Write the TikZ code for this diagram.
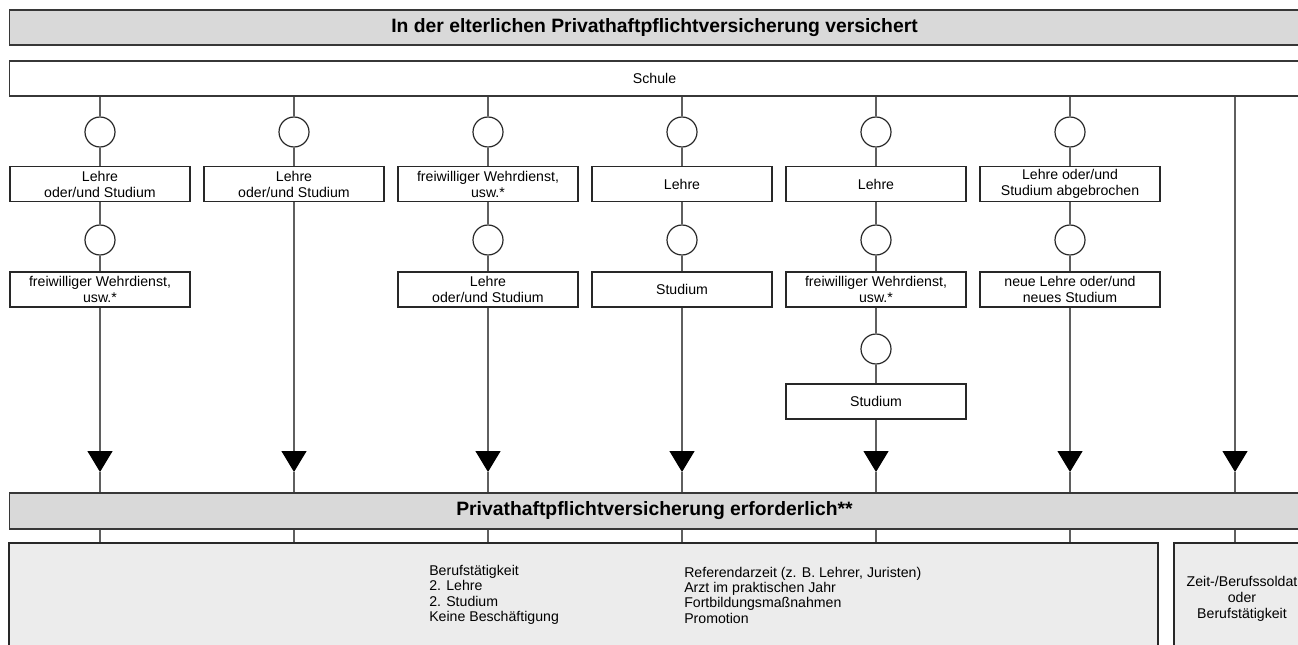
\documentclass[tikz,border=0pt]{standalone}
\usepackage{fontspec}
\setmainfont{Liberation Sans}
\usetikzlibrary{arrows.meta}

\tikzset{
  bar/.style={draw={rgb, 255:red, 55; green, 55; blue, 55 }, fill={rgb, 255:red, 217; green, 217; blue, 217 }, line width=1pt, minimum width=968pt, minimum height=26.25pt, inner sep=0pt, font=\bfseries\fontsize{14.5}{16}\selectfont},
  wide/.style={draw={rgb, 255:red, 55; green, 55; blue, 55 }, fill=white, line width=1pt, minimum width=968pt, minimum height=26.25pt, inner sep=0pt, font=\fontsize{10.6}{12}\selectfont},
  stepbox/.style={draw={rgb, 255:red, 40; green, 40; blue, 40 }, fill=white, line width=1pt, minimum width=135pt, minimum height=26.25pt, inner sep=0pt, align=center, font=\fontsize{10.6}{12}\selectfont},
  knot/.style={circle, draw={rgb, 255:red, 40; green, 40; blue, 40 }, fill=white, line width=0.9pt, minimum size=22.5pt, inner sep=0pt},
  rest/.style={draw={rgb, 255:red, 40; green, 40; blue, 40 }, fill={rgb, 255:red, 236; green, 236; blue, 236 }, line width=1pt, minimum height=84pt, inner sep=0pt, align=center, font=\fontsize{10.6}{12}\selectfont},
  liste/.style={anchor=west, inner sep=0pt, align=left, font=\fontsize{10.6}{11.5}\selectfont},
  conn/.style={draw={rgb, 255:red, 95; green, 95; blue, 95 }, line width=1pt},
  tip/.style={-{Triangle[width=18.75pt,length=15.75pt,color=black]}}
}

\begin{document}
\begin{tikzpicture}[x=0.75pt,y=0.75pt,yscale=-1,xscale=1]
\useasboundingbox (0,0) rectangle (1298,645);
\clip (0,0) rectangle (1298,645);

%Bars
\node [bar] (versichert) at (654.5,27.5) {In der elterlichen Privathaftpflichtversicherung versichert};
\node [wide] (schule) at (654.5,78.5) {Schule};
\node [bar, minimum height=27pt] (pflicht) at (654.5,511) {Privathaftpflichtversicherung erforderlich**};
\node [rest, minimum width=861.75pt] (taetig) at (583.5,599) {};
\node [rest, minimum width=102pt] (soldat) at (1242,599) {Zeit-/Berufssoldat\\oder\\Berufstätigkeit};

% Text Node
\node [liste] (liste1) at (429,595) {Berufstätigkeit\\2. Lehre\\2. Studium\\Keine Beschäftigung};
% Text Node
\node [liste] (liste2) at (684,595) {Referendarzeit (z. B. Lehrer, Juristen)\\Arzt im praktischen Jahr\\Fortbildungsmaßnahmen\\Promotion};

%Circles
\node [knot] (c1a) at (100,132) {};
\node [knot] (c2a) at (294,132) {};
\node [knot] (c3a) at (488,132) {};
\node [knot] (c4a) at (682,132) {};
\node [knot] (c5a) at (876,132) {};
\node [knot] (c6a) at (1070,132) {};
\node [knot] (c1b) at (100,240) {};
\node [knot] (c3b) at (488,240) {};
\node [knot] (c4b) at (682,240) {};
\node [knot] (c5b) at (876,240) {};
\node [knot] (c6b) at (1070,240) {};
\node [knot] (c5c) at (876,349) {};

%Boxes
\node [stepbox] (b1a) at (100,184) {Lehre\\oder/und Studium};
\node [stepbox] (b2a) at (294,184) {Lehre\\oder/und Studium};
\node [stepbox] (b3a) at (488,184) {freiwilliger Wehrdienst,\\usw.*};
\node [stepbox] (b4a) at (682,184) {Lehre};
\node [stepbox] (b5a) at (876,184) {Lehre};
\node [stepbox] (b6a) at (1070,184) {Lehre oder/und\\Studium abgebrochen};
\node [stepbox] (b1b) at (100,289.5) {freiwilliger Wehrdienst,\\usw.*};
\node [stepbox] (b3b) at (488,289.5) {Lehre\\oder/und Studium};
\node [stepbox] (b4b) at (682,289.5) {Studium};
\node [stepbox] (b5b) at (876,289.5) {freiwilliger Wehrdienst,\\usw.*};
\node [stepbox] (b6b) at (1070,289.5) {neue Lehre oder/und\\neues Studium};
\node [stepbox] (b5c) at (876,401.5) {Studium};

%Arrow tips
\coordinate (t1) at (100,472);
\coordinate (t2) at (294,472);
\coordinate (t3) at (488,472);
\coordinate (t4) at (682,472);
\coordinate (t5) at (876,472);
\coordinate (t6) at (1070,472);
\coordinate (t7) at (1235,472);

%Straight Lines
\draw [conn] (schule.south -| c1a) -- (c1a) (c1a) -- (b1a) (b1a) -- (c1b) (c1b) -- (b1b);
\draw [conn] (schule.south -| c2a) -- (c2a) (c2a) -- (b2a);
\draw [conn] (schule.south -| c3a) -- (c3a) (c3a) -- (b3a) (b3a) -- (c3b) (c3b) -- (b3b);
\draw [conn] (schule.south -| c4a) -- (c4a) (c4a) -- (b4a) (b4a) -- (c4b) (c4b) -- (b4b);
\draw [conn] (schule.south -| c5a) -- (c5a) (c5a) -- (b5a) (b5a) -- (c5b) (c5b) -- (b5b) (b5b) -- (c5c) (c5c) -- (b5c);
\draw [conn] (schule.south -| c6a) -- (c6a) (c6a) -- (b6a) (b6a) -- (c6b) (c6b) -- (b6b);

%Arrows
\draw [conn, tip] (b1b) -- (t1);
\draw [conn, tip] (b2a) -- (t2);
\draw [conn, tip] (b3b) -- (t3);
\draw [conn, tip] (b4b) -- (t4);
\draw [conn, tip] (b5c) -- (t5);
\draw [conn, tip] (b6b) -- (t6);
\draw [conn, tip] (schule.south -| t7) -- (t7);

\draw [conn] (t1) -- (pflicht.north -| t1) (t2) -- (pflicht.north -| t2) (t3) -- (pflicht.north -| t3) (t4) -- (pflicht.north -| t4) (t5) -- (pflicht.north -| t5) (t6) -- (pflicht.north -| t6) (t7) -- (pflicht.north -| t7);
\draw [conn] (pflicht.south -| t1) -- (taetig.north -| t1) (pflicht.south -| t2) -- (taetig.north -| t2) (pflicht.south -| t3) -- (taetig.north -| t3) (pflicht.south -| t4) -- (taetig.north -| t4) (pflicht.south -| t5) -- (taetig.north -| t5) (pflicht.south -| t6) -- (taetig.north -| t6);
\draw [conn] (pflicht.south -| t7) -- (soldat.north -| t7);
\end{tikzpicture}
\end{document}
